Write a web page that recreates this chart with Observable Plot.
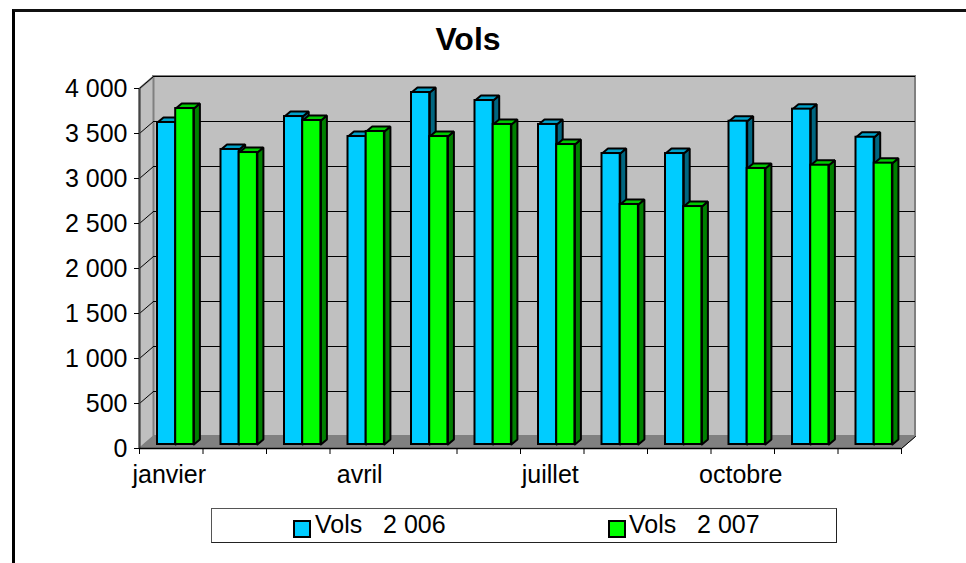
<!DOCTYPE html>
<html><head><meta charset="utf-8">
<script src="https://cdn.jsdelivr.net/npm/d3@7"></script>
<script src="https://cdn.jsdelivr.net/npm/@observablehq/plot@0.6"></script>
<style>
html,body{margin:0;padding:0;background:#fff;}
body{width:966px;height:563px;position:relative;overflow:hidden;font-family:"Liberation Sans",Arial,sans-serif;color:#000;}
#frame{position:absolute;left:12px;top:9px;right:-10px;bottom:-10px;border-left:3px solid #000;border-top:3px solid #111;box-sizing:border-box;}
#title{position:absolute;left:0;width:936px;top:21px;text-align:center;font-weight:bold;font-size:32px;line-height:36px;}
#chart{position:absolute;left:0;top:0;}
#legend{position:absolute;left:211px;top:508px;width:626px;height:35px;box-sizing:border-box;border:1px solid #000;border-color:#555 #222 #222 #555;background:#fff;font-size:25px;line-height:30px;white-space:pre;}
.k{position:absolute;top:0;}
.s{position:absolute;top:11px;width:14px;height:14px;border:2px solid #000;}
</style></head><body>
<div id="frame"></div>
<div id="chart"></div>
<div id="title">Vols</div>
<div id="legend"></div>
<script>
const months = ["janvier","février","mars","avril","mai","juin","juillet","août","septembre","octobre","novembre","décembre"];
const vols2006 = [3578,3278,3644,3422,3911,3822,3556,3233,3233,3592,3726,3414];
const vols2007 = [3733,3244,3600,3478,3422,3556,3333,2667,2644,3067,3103,3126];
const yTicks = [0,500,1000,1500,2000,2500,3000,3500,4000];
const seriesNames = ["Vols   2 006","Vols   2 007"];
const colors2006 = {front:"#00ccff",top:"#00a3cc",side:"#006680"};
const colors2007 = {front:"#00ff00",top:"#00cc00",side:"#008000"};

const fmt = d3.formatLocale({decimal:",",thousands:" ",grouping:[3],currency:["",""]}).format(",d");
const wallDx = 14/63.5, wallDy = 12/0.09;      // depth of the chart box, in data units
const barDx = 6/63.5, barDy = 5/0.09;          // depth of a bar
const baseDy = 4/0.09, barStart = 18/63.5, barW = 18.2/63.5;

function poly(id, pts){ return pts.map(([x,y])=>({id,x,y})); }
const line = (pts,opts)=>Plot.line(pts,{x:"x",y:"y",z:"id",curve:"linear",...opts});

function barMarks(values, k, c){
  const front=[], top=[], side=[];
  values.forEach((v,i)=>{
    const x0=i+barStart+k*barW, x1=x0+barW, y0=baseDy, y1=v+baseDy;
    front.push({x1:x0,x2:x1,y1:y0,y2:y1});
    top.push(...poly(i,[[x0,y1],[x0+barDx,y1+barDy],[x1+barDx,y1+barDy],[x1,y1],[x0,y1]]));
    side.push(...poly(i,[[x1,y0],[x1+barDx,y0+barDy],[x1+barDx,y1+barDy],[x1,y1],[x1,y0]]));
  });
  const st={stroke:"#000",strokeWidth:2,strokeLinejoin:"miter"};
  return [
    line(side,{fill:c.side,...st}),
    line(top,{fill:c.top,...st}),
    Plot.rect(front,{x1:"x1",x2:"x2",y1:"y1",y2:"y2",fill:c.front,...st})
  ];
}

const gridBack = yTicks.filter(d=>d>0);
const chart = Plot.plot({
  width:966,height:563,
  marginLeft:139,marginRight:65,marginTop:88,marginBottom:115,
  x:{type:"linear",domain:[0,12],axis:null},
  y:{type:"linear",domain:[0,4000],axis:null},
  style:{fontFamily:'"Liberation Sans",Arial,sans-serif',background:"transparent",color:"#000",overflow:"visible"},
  marks:[
    // back wall
    Plot.rect([0],{x1:wallDx,x2:12+wallDx,y1:wallDy,y2:4000+wallDy,fill:"#c0c0c0",stroke:"#808080",strokeWidth:2}),
    // left wall
    line(poly(0,[[0,0],[wallDx,wallDy],[wallDx,4000+wallDy],[0,4000],[0,0]]),{fill:"#c0c0c0",stroke:"#808080",strokeWidth:2}),
    // floor
    line(poly(0,[[0,0],[wallDx,wallDy],[12+wallDx,wallDy],[12,0],[0,0]]),{fill:"#808080",stroke:"#808080",strokeWidth:1}),
    // gridlines
    Plot.ruleY(gridBack,{x1:wallDx,x2:12+wallDx,y:d=>d+wallDy,stroke:"#000",strokeWidth:1}),
    ...gridBack.map(d=>line(poly(d,[[0,d],[wallDx,d+wallDy]]),{stroke:"#000",strokeWidth:1})),
    // bars
    ...barMarks(vols2006,0,colors2006),
    ...barMarks(vols2007,1,colors2007),
    // axes lines
    Plot.ruleX([0],{y1:0,y2:4000,stroke:"#444",strokeWidth:2}),
    Plot.ruleY([0],{x1:0,x2:12,stroke:"#000",strokeWidth:1.5}),
    line(poly(0,[[12,0],[12+wallDx,wallDy]]),{stroke:"#000",strokeWidth:1}),
    Plot.axisY({ticks:yTicks,tickSize:5,tickPadding:7,tickFormat:fmt,fontSize:25,stroke:"#000",fill:"#000",label:null}),
    Plot.ruleX(d3.range(0,13),{y1:0,y2:-6/0.09,clip:false,stroke:"#000",strokeWidth:1}),
    Plot.axisX({ticks:[0.5,3.5,6.5,9.5],tickSize:0,tickPadding:17,fontSize:25,fill:"#000",label:null,dx:-2,
      tickFormat:d=>months[Math.floor(d)]})
  ]
});
document.getElementById("chart").append(chart);

const lg=document.getElementById("legend");
[[81,103,colors2006.front],[396,417,colors2007.front]].forEach(([sx,tx,col],i)=>{
  const s=document.createElement("div");s.className="s";s.style.left=sx+"px";s.style.background=col;lg.append(s);
  const t=document.createElement("div");t.className="k";t.style.left=tx+"px";t.textContent=seriesNames[i];lg.append(t);
});
</script>
</body></html>
